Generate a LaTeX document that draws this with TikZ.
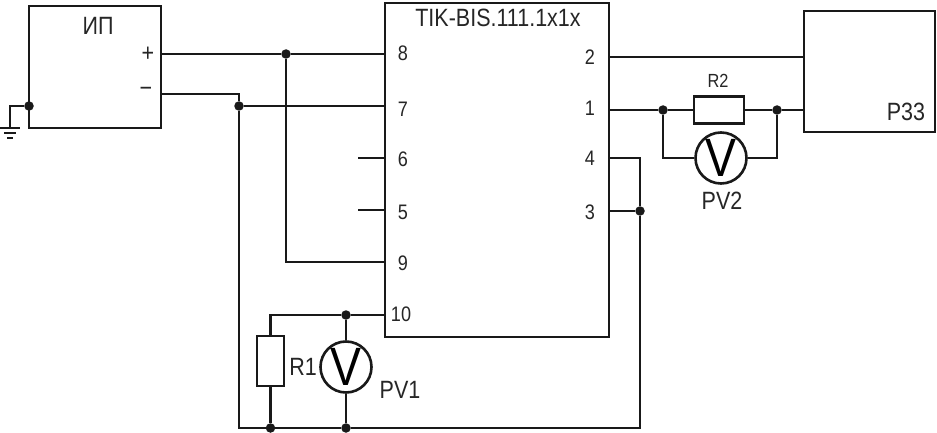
\documentclass[tikz,border=0pt]{standalone}
\usepackage{fontspec}
\setmainfont[FakeStretch=0.86]{Liberation Sans}
\tikzset{
  wire/.style={line width=2.6pt,draw=black!90},
  box/.style={wire,rectangle,inner sep=0pt,fill=none},
  junction/.style={circle,fill=black!90,inner sep=0pt,minimum size=9.5pt},
  meter/.style={wire,circle,inner sep=0pt,minimum size=51pt,font=\fontsize{54}{54}\selectfont},
  lbl/.style={text=black!85,inner sep=0pt,font=\fontsize{25}{25}\selectfont},
  pin/.style={lbl,font=\fontsize{21}{21}\selectfont},
}
\begin{document}
\begin{tikzpicture}[x=1pt,y=-1pt]
\useasboundingbox[fill=white] (0,0) rectangle (937,433);
% blocks
\node[box,minimum width=132pt,minimum height=122pt] (ip) at (95,67) {};
\node[box,minimum width=224pt,minimum height=334pt] (chip) at (497,170) {};
\node[box,minimum width=131pt,minimum height=121pt] (rzz) at (869.5,71.5) {};
\node[box,minimum width=27pt,minimum height=50pt] (r1) at (270.5,361) {};
\node[box,minimum width=50pt,minimum height=27pt] (r2) at (719,110) {};
\node[meter] (pv1) at (346,367) {V};
\node[meter] (pv2) at (721,158) {V};
% junctions
\node[junction] (jg) at (29,106) {};
\node[junction] (ja) at (286,54) {};
\node[junction] (jb) at (239,106) {};
\node[junction] (jc) at (346,315) {};
\node[junction] (jd) at (270.5,428) {};
\node[junction] (je) at (346,428) {};
\node[junction] (jf) at (640,211) {};
\node[junction] (jh) at (663,110) {};
\node[junction] (ji) at (777,110) {};
% free ends
\coordinate (g0) at (10,128);
\coordinate (gl1) at (0,128); \coordinate (gr1) at (20,128);
\coordinate (gl2) at (4,133); \coordinate (gr2) at (16,133);
\coordinate (gl3) at (7,138); \coordinate (gr3) at (13,138);
\coordinate (p8) at (385,54);
\coordinate (p7) at (385,106);
\coordinate (p6) at (385,158);
\coordinate (s6) at (358,158);
\coordinate (p5) at (385,210);
\coordinate (s5) at (358,210);
\coordinate (p9) at (385,262);
\coordinate (p10) at (385,315);
\coordinate (p2) at (609,57);
\coordinate (q2) at (804,57);
\coordinate (p1) at (609,110);
\coordinate (q1) at (804,110);
\coordinate (p4) at (609,158);
\coordinate (p3) at (609,211);
\coordinate (ipp) at (161,54);
\coordinate (ipm) at (161,94);
\coordinate (bl) at (239,428);
\coordinate (br) at (640,428);
% wires
\draw[wire] (jg) -| (g0);
\draw[wire] (gl1) -- (gr1);
\draw[wire] (gl2) -- (gr2);
\draw[wire] (gl3) -- (gr3);
\draw[wire] (ipp) -- (ja) -- (p8);
\draw[wire] (ja) |- (p9);
\draw[wire] (ipm) -| (jb);
\draw[wire] (jb) -- (p7);
\draw[wire] (jb) -- (bl) -- (jd) -- (je) -- (br) -- (jf);
\draw[wire] (s6) -- (p6);
\draw[wire] (s5) -- (p5);
\draw[wire] (p10) -- (jc) -| (r1.north);
\draw[wire] (r1.south) -- (jd);
\draw[wire] (jc) -- (pv1.north);
\draw[wire] (pv1.south) -- (je);
\draw[wire] (p4) -| (jf);
\draw[wire] (p3) -- (jf);
\draw[wire] (p2) -- (q2);
\draw[wire] (p1) -- (jh) -- (r2.west);
\draw[wire] (r2.east) -- (ji) -- (q1);
\draw[wire] (jh) |- (pv2.west);
\draw[wire] (ji) |- (pv2.east);
% labels
\node[lbl] (tip) at (98,26) {ИП};
\node[lbl] (tplus) at (148,54) {+};
\node[lbl] (tminus) at (146,92) {−};
\node[lbl] (tchip) at (498,18) {TIK-BIS.111.1x1x};
\node[pin] (t8) at (403,53) {8};
\node[pin] (t7) at (403,109) {7};
\node[pin] (t6) at (403,159) {6};
\node[pin] (t5) at (403,212) {5};
\node[pin] (t9) at (403,263) {9};
\node[pin] (t10) at (401,314) {10};
\node[pin] (t2) at (590,57) {2};
\node[pin] (t1) at (590,108) {1};
\node[pin] (t4) at (590,158) {4};
\node[pin] (t3) at (590,212) {3};
\node[lbl,font=\fontsize{19}{19}\selectfont] (tr2) at (718,81) {R2};
\node[lbl] (tpv2) at (722,201) {PV2};
\node[lbl] (tr1) at (303,367) {R1};
\node[lbl] (tpv1) at (400,390) {PV1};
\node[lbl] (tp33) at (906,112) {Р33};
\end{tikzpicture}
\end{document}
